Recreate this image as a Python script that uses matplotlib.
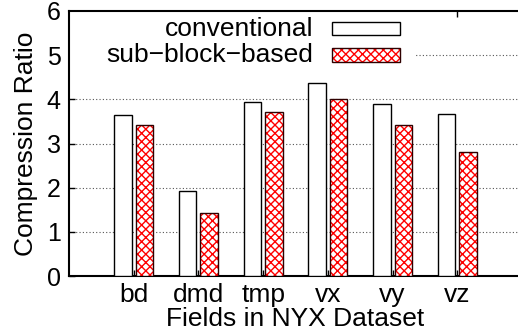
import numpy as np
import matplotlib
matplotlib.use("Agg")
import matplotlib.pyplot as plt
from matplotlib.patches import Rectangle

fields = ["bd", "dmd", "tmp", "vx", "vy", "vz"]
conventional = [3.64, 1.92, 3.93, 4.38, 3.90, 3.66]
sub_block = [3.42, 1.42, 3.72, 4.01, 3.43, 2.80]
yticks = [0, 1, 2, 3, 4, 5, 6]

plt.rcParams["font.family"] = ["Liberation Sans", "DejaVu Sans"]
plt.rcParams["hatch.linewidth"] = 1.0

fig = plt.figure(figsize=(5.18, 3.35), dpi=100)
ax = fig.add_axes([69 / 518, 1 - 276 / 335, 453 / 518, 265 / 335])

x = np.arange(1, len(fields) + 1)
w = 0.27
ax.bar(x - 0.165, conventional, w, color="white", edgecolor="black", lw=1.0, zorder=3)
ax.bar(x + 0.165, sub_block, w, color="white", edgecolor="red", hatch="xxxx", lw=0, zorder=3)
ax.bar(x + 0.165, sub_block, w, fill=False, edgecolor="#300000", lw=1.0, zorder=4)

ax.set_xlim(0, 7)
ax.set_ylim(0, 6)
ax.set_xticks(x)
ax.set_xticklabels(fields)
ax.set_yticks(yticks)
ax.tick_params(axis="both", direction="in", length=4, width=1, labelsize=19)
ax.tick_params(axis="x", top=True, pad=5)
ax.tick_params(axis="y", pad=6, labelsize=18)
for s in ax.spines.values():
    s.set_linewidth(1.5)
ax.spines["right"].set_visible(False)

for yv in yticks[1:-1]:
    ax.axhline(yv, color="#555555", ls=(0, (1, 2)), lw=0.8, zorder=1)

ax.set_xlabel("Fields in NYX Dataset", fontsize=19, labelpad=0)
ax.set_ylabel("Compression Ratio", fontsize=19, labelpad=6)

# key, gnuplot style: text right aligned, sample on the right
ax.add_patch(Rectangle((0.003, 0.775), 0.763, 0.22, transform=ax.transAxes,
                       facecolor="white", edgecolor="none", zorder=2))
ax.text(0.5386, 0.9332, "conventional", transform=ax.transAxes, ha="right",
        va="center", fontsize=19, zorder=5)
ax.text(0.5386, 0.8328, "sub\u2212block\u2212based", transform=ax.transAxes, ha="right",
        va="center", fontsize=19, zorder=5)
ax.add_patch(Rectangle((0.5799, 0.9083), 0.1508, 0.0502, transform=ax.transAxes,
                       facecolor="white", edgecolor="black", lw=1.0, zorder=5))
ax.add_patch(Rectangle((0.5799, 0.8064), 0.1508, 0.0528, transform=ax.transAxes,
                       facecolor="white", edgecolor="red", hatch="xxxx", lw=0, zorder=5))
ax.add_patch(Rectangle((0.5799, 0.8064), 0.1508, 0.0528, transform=ax.transAxes,
                       fill=False, edgecolor="#300000", lw=1.0, zorder=6))

fig.savefig("out.png", dpi=100)
